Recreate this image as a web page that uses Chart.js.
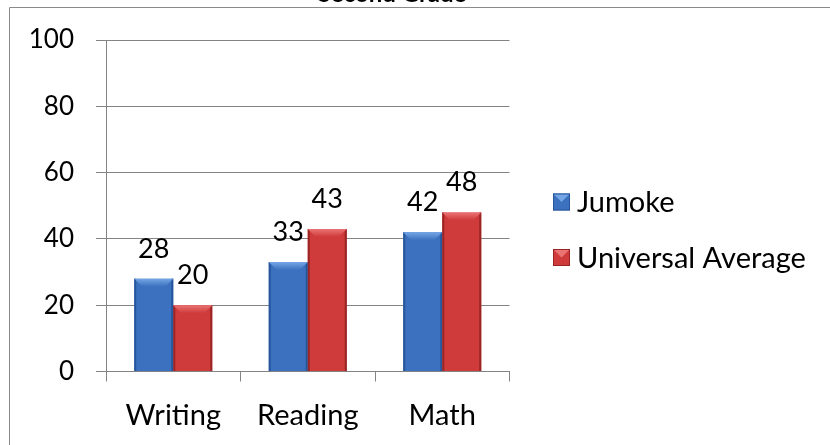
<!DOCTYPE html>
<html><head><meta charset="utf-8">
<script src="https://cdn.jsdelivr.net/npm/chart.js@4.4.0/dist/chart.umd.min.js"></script>
<style>html,body{margin:0;padding:0;background:#fff;overflow:hidden}#wrap{position:absolute;left:0;top:0;width:830px;height:445px}</style>
</head><body><div id="wrap"><canvas id="c" width="830" height="445"></canvas></div>
<script>
const chartTitle = 'Second Grade';
const categories = ['Writing', 'Reading', 'Math'];
const seriesNames = ['Jumoke', 'Universal Average'];
const jumoke = [28, 33, 42];
const universalAverage = [20, 43, 48];
const yTicks = [0, 20, 40, 60, 80, 100];

const FONT = 'Lato, "Open Sans", sans-serif';
const GRID = '#848484';
const palette = [
  {main: '#3b71be', light: '#74a6e6', dark: '#28569a'},
  {main: '#cf3a3a', light: '#ea7474', dark: '#9a2525'}
];

const framePlugin = {
  id: 'frame',
  beforeDraw(chart) {
    const ctx = chart.ctx;
    ctx.save();
    ctx.fillStyle = '#fff';
    ctx.fillRect(0, 0, chart.width, chart.height);
    ctx.strokeStyle = '#8a8a8a';
    ctx.lineWidth = 1;
    ctx.beginPath();
    ctx.moveTo(9.5, chart.height);
    ctx.lineTo(9.5, 7.5);
    ctx.lineTo(chart.width, 7.5);
    ctx.stroke();
    ctx.restore();
  },
  afterDraw(chart) {
    const ctx = chart.ctx;
    ctx.save();
    ctx.fillStyle = '#000';
    ctx.font = 'bold 24px ' + FONT;
    ctx.textAlign = 'center';
    ctx.textBaseline = 'alphabetic';
    ctx.fillText(chartTitle, 392, 2);
    // legend
    ctx.font = '29px ' + FONT;
    ctx.textAlign = 'left';
    ctx.textBaseline = 'middle';
    const ys = [202, 257.5];
    chart.data.datasets.forEach((ds, i) => {
      const p = palette[i];
      const x = 553, y = ys[i] - 8.5, s = 17;
      ctx.fillStyle = p.main;
      ctx.fillRect(x, y, s, s);
      ctx.fillStyle = p.light;
      ctx.beginPath();
      ctx.moveTo(x, y); ctx.lineTo(x + s, y); ctx.lineTo(x + s / 2, y + s / 2); ctx.closePath();
      ctx.fill();
      ctx.strokeStyle = p.dark;
      ctx.lineWidth = 1;
      ctx.strokeRect(x + 0.5, y + 0.5, s - 1, s - 1);
      ctx.fillStyle = '#000';
      ctx.fillText(ds.label, 577, ys[i] + 1);
    });
    ctx.restore();
  },
  afterDatasetsDraw(chart) {
    const ctx = chart.ctx;
    ctx.save();
    chart.data.datasets.forEach((ds, di) => {
      const p = palette[di];
      chart.getDatasetMeta(di).data.forEach((el, i) => {
        const {x, y, base, width} = el.getProps(['x', 'y', 'base', 'width'], true);
        const l = x - width / 2, r = x + width / 2, d = 8;
        // side edges
        ctx.fillStyle = p.dark;
        ctx.fillRect(l, y, 2, base - y);
        ctx.fillRect(r - 2, y, 2, base - y);
        // top bevel
        const g = ctx.createLinearGradient(0, y, 0, y + d);
        g.addColorStop(0, p.light);
        g.addColorStop(1, p.main);
        ctx.fillStyle = g;
        ctx.beginPath();
        ctx.moveTo(l, y); ctx.lineTo(r, y); ctx.lineTo(r - d, y + d); ctx.lineTo(l + d, y + d); ctx.closePath();
        ctx.fill();
        // value label
        ctx.fillStyle = '#000';
        ctx.font = '27px ' + FONT;
        ctx.textAlign = 'center';
        ctx.textBaseline = 'alphabetic';
        ctx.fillText(String(ds.data[i]), x, y - 21);
      });
    });
    ctx.restore();
  }
};

new Chart(document.getElementById('c'), {
  type: 'bar',
  data: {
    labels: categories,
    datasets: [
      {label: seriesNames[0], data: jumoke, backgroundColor: palette[0].main, barPercentage: 1, categoryPercentage: 0.58},
      {label: seriesNames[1], data: universalAverage, backgroundColor: palette[1].main, barPercentage: 1, categoryPercentage: 0.58}
    ]
  },
  options: {
    responsive: false,
    animation: false,
    devicePixelRatio: 1,
    layout: {padding: {left: 0, top: 40, right: 320.5, bottom: 0}},
    plugins: {legend: {display: false}, title: {display: false}, tooltip: {enabled: false}},
    scales: {
      x: {
        offset: true,
        grid: {display: true, drawOnChartArea: false, drawTicks: true, tickLength: 10, color: GRID, offset: true},
        border: {display: true, color: GRID, width: 1},
        ticks: {color: '#000', font: {family: FONT, size: 29}, padding: 17},
        afterFit(s) { s.height = 73.5; }
      },
      y: {
        min: 0, max: 100,
        afterBuildTicks(s) { s.ticks = yTicks.map(v => ({value: v})); },
        grid: {color: GRID, tickLength: 10, lineWidth: 1},
        border: {display: true, color: GRID, width: 1},
        ticks: {color: '#000', font: {family: FONT, size: 26}, padding: 22},
        afterFit(s) { s.width = 106; }
      }
    }
  },
  plugins: [framePlugin]
});
</script></body></html>
